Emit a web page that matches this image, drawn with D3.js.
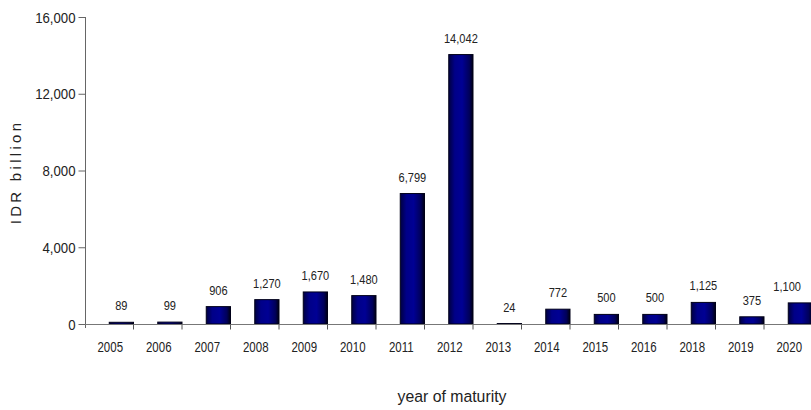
<!DOCTYPE html>
<html><head><meta charset="utf-8">
<script src="https://cdn.jsdelivr.net/npm/d3@7"></script>
<style>
body{margin:0;background:#fff;}
text{font-family:"Liberation Sans",Arial,sans-serif;fill:#222;}
</style></head><body>
<svg id="chart" width="811" height="410"></svg>
<script>
const years = ["2005","2006","2007","2008","2009","2010","2011","2012","2013","2014","2015","2016","2018","2019","2020"];
const values = [89,99,906,1270,1670,1480,6799,14042,24,772,500,500,1125,375,1100];
const yTicks = [0,4000,8000,12000,16000];

const W = 811;
const svg = d3.select("#chart");
const m = {left:86, top:17, bottom:324};
const band = 48.5;
const x = d3.scaleBand().domain(years).range([m.left, m.left + band*years.length]).paddingInner(0).paddingOuter(0);
const y = d3.scaleLinear().domain([0,16000]).range([m.bottom, m.top]);
const SX = 0.82; // condensed look

const defs = svg.append("defs");
const g = defs.append("linearGradient").attr("id","barGrad").attr("x1","0").attr("x2","1").attr("y1","0").attr("y2","0");
g.append("stop").attr("offset","0%").attr("stop-color","#000040");
g.append("stop").attr("offset","25%").attr("stop-color","#000088");
g.append("stop").attr("offset","55%").attr("stop-color","#000094");
g.append("stop").attr("offset","85%").attr("stop-color","#00005a");
g.append("stop").attr("offset","100%").attr("stop-color","#000010");

// bars
svg.append("g").selectAll("rect").data(years).join("rect")
  .attr("x", d => x(d) + x.bandwidth()/2 - 1)
  .attr("width", x.bandwidth()/2)
  .attr("y", (d,i) => y(values[i]))
  .attr("height", (d,i) => y(0) - y(values[i]))
  .attr("fill","url(#barGrad)")
  .attr("stroke","#000018").attr("stroke-width",1);

// value labels (condensed), kept inside the picture
svg.append("g").selectAll("text").data(years).join("text")
  .attr("text-anchor","middle")
  .style("font-size","13.5px")
  .text((d,i) => d3.format(",")(values[i]))
  .each(function(d,i){
    const t = d3.select(this);
    let cx = x(d) + x.bandwidth()*0.75 - 1;
    const half = this.getComputedTextLength()*SX/2;
    if (cx + half > W - 10) cx = W - 10 - half;
    t.attr("transform",`translate(${cx},${y(values[i]) - 12}) scale(${SX},1)`);
  });

// y axis
const yAxis = d3.axisLeft(y).tickValues(yTicks).tickFormat(d3.format(",")).tickSize(7).tickPadding(0);
const ya = svg.append("g").attr("transform",`translate(${m.left-0.5},0)`).call(yAxis);
ya.select(".domain").attr("stroke","#666").attr("d",`M0,${m.top}V${m.bottom+4}`);
ya.selectAll(".tick line").attr("stroke","#666");
ya.selectAll(".tick text").style("font-size","15px").attr("fill","#222")
  .attr("x",null).attr("dy",null)
  .attr("transform","translate(-10,5) scale(0.88,1)");

// x axis
const xa = svg.append("g").attr("transform",`translate(0,${m.bottom+0.5})`);
xa.append("line").attr("x1",m.left-1).attr("x2",W).attr("stroke","#777");
xa.selectAll("line.tk").data(years).join("line").attr("class","tk")
  .attr("x1", d => x(d)+x.bandwidth()-1).attr("x2", d => x(d)+x.bandwidth()-1)
  .attr("y1",0).attr("y2",5).attr("stroke","#555");
xa.selectAll("text").data(years).join("text")
  .attr("transform", d => `translate(${x(d)+x.bandwidth()/2},27.5) scale(${SX},1)`)
  .attr("text-anchor","middle")
  .style("font-size","14px")
  .text(d => d);

// axis titles
svg.append("text").attr("transform","translate(21,172) rotate(-90)")
  .attr("text-anchor","middle").style("font-size","15px").style("letter-spacing","3.3px")
  .text("IDR billion");
svg.append("text").attr("transform","translate(452,402) scale(0.93,1)").attr("text-anchor","middle")
  .style("font-size","17px").text("year of maturity");
</script>
</body></html>
